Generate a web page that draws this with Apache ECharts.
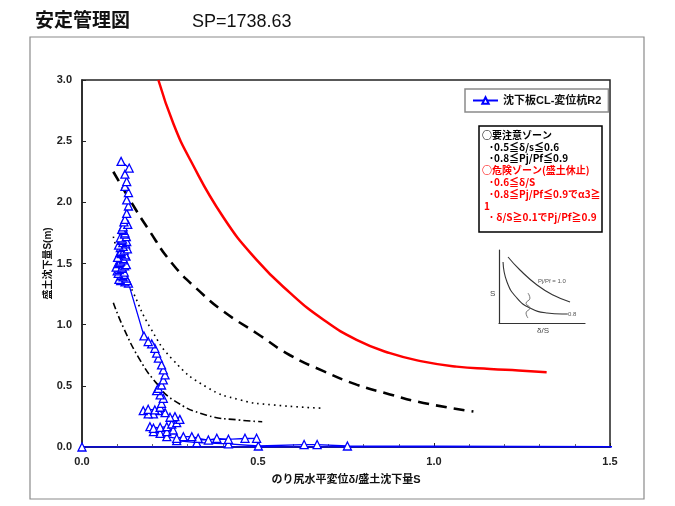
<!DOCTYPE html>
<html>
<head>
<meta charset="utf-8">
<script src="https://cdn.jsdelivr.net/npm/echarts@6/dist/echarts.min.js"></script>
<style>
  html, body { margin: 0; padding: 0; background: #fff; }
  #chart { width: 675px; height: 506px; }
</style>
</head>
<body>
<div id="chart"></div>
<script>
// 沈下板CL-変位杭R2 (時系列順: 下から上へ)
var blueX = [0, 2.0, 0.754, 0.668, 0.631, 0.501, 0.416, 0.326, 0.269, 0.496, 0.463, 0.416, 0.383, 0.359, 0.330,
  0.312, 0.288, 0.269, 0.241, 0.222, 0.203, 0.241, 0.259, 0.193, 0.203, 0.222, 0.241, 0.255, 0.269, 0.278,
  0.264, 0.250, 0.236, 0.217, 0.203, 0.188, 0.174, 0.188, 0.207, 0.222, 0.226, 0.231, 0.222, 0.212, 0.217,
  0.226, 0.231, 0.236, 0.231, 0.226, 0.217, 0.212, 0.207, 0.198, 0.188, 0.176,
  0.132, 0.122, 0.110, 0.128, 0.108, 0.105, 0.125, 0.117, 0.112, 0.119, 0.103, 0.120, 0.100, 0.106, 0.113,
  0.097, 0.114, 0.121, 0.126, 0.103, 0.107, 0.110, 0.118, 0.117, 0.101, 0.125, 0.123, 0.112, 0.108, 0.111,
  0.120, 0.129, 0.109, 0.117, 0.104, 0.124, 0.116, 0.127, 0.113, 0.115, 0.109, 0.126, 0.121, 0.122, 0.118,
  0.113, 0.117, 0.130, 0.119, 0.122, 0.127, 0.132, 0.127, 0.132, 0.122, 0.127, 0.122, 0.134, 0.111];
var blueY = [0, 0.0, 0.008, 0.02, 0.02, 0.008, 0.025, 0.035, 0.052, 0.071, 0.071, 0.063, 0.071, 0.057, 0.071,
  0.084, 0.084, 0.071, 0.084, 0.112, 0.125, 0.125, 0.139, 0.166, 0.153, 0.161, 0.166, 0.188, 0.199, 0.226,
  0.248, 0.243, 0.281, 0.297, 0.270, 0.270, 0.297, 0.308, 0.303, 0.325, 0.357, 0.398, 0.426, 0.461, 0.480,
  0.507, 0.548, 0.589, 0.630, 0.671, 0.726, 0.767, 0.807, 0.843, 0.862, 0.908,
  1.34, 1.35, 1.36, 1.36, 1.37, 1.37, 1.38, 1.39, 1.40, 1.41, 1.42, 1.43, 1.44, 1.45, 1.46,
  1.47, 1.47, 1.48, 1.49, 1.50, 1.51, 1.52, 1.53, 1.54, 1.55, 1.56, 1.57, 1.58, 1.59, 1.60,
  1.61, 1.62, 1.63, 1.64, 1.65, 1.66, 1.67, 1.68, 1.69, 1.70, 1.71, 1.72, 1.74, 1.75, 1.77,
  1.78, 1.80, 1.82, 1.84, 1.86, 1.91, 1.97, 2.02, 2.08, 2.13, 2.17, 2.23, 2.28, 2.335];

// 管理基準線
var redX = [0.217, 0.26, 0.307, 0.401, 0.496, 0.591, 0.686, 0.780, 0.875, 0.970, 1.064, 1.159, 1.24, 1.320];
var redY = [3.00, 2.64, 2.35, 1.88, 1.53, 1.26, 1.04, 0.876, 0.767, 0.698, 0.657, 0.638, 0.625, 0.611];
var dashX = [0.089, 0.136, 0.184, 0.259, 0.335, 0.401, 0.496, 0.591, 0.686, 0.780, 0.875, 0.970, 1.112];
var dashY = [2.25, 2.02, 1.80, 1.49, 1.27, 1.11, 0.93, 0.75, 0.62, 0.51, 0.43, 0.36, 0.29];
var dotX = [0.089, 0.117, 0.146, 0.193, 0.259, 0.354, 0.449, 0.543, 0.686];
var dotY = [1.72, 1.45, 1.26, 0.98, 0.71, 0.49, 0.385, 0.344, 0.317];
var dashDotX = [0.089, 0.117, 0.165, 0.212, 0.259, 0.354, 0.449, 0.512];
var dashDotY = [1.18, 0.98, 0.71, 0.52, 0.385, 0.26, 0.22, 0.207];

// 挿図 (模式図)
var insetUpX = [0.105, 0.244, 0.442, 0.628, 0.826];
var insetUpY = [0.904, 0.726, 0.521, 0.384, 0.288];
var insetLowX = [0.047, 0.093, 0.209, 0.36, 0.558, 0.733, 0.80];
var insetLowY = [0.836, 0.562, 0.342, 0.205, 0.137, 0.123, 0.123];
var wiggleX = [0.337, 0.36, 0.314, 0.36, 0.314, 0.337];
var wiggleY = [0.41, 0.34, 0.27, 0.205, 0.137, 0.068];

var xTicks = ['0.0', '0.5', '1.0', '1.5'];

var noteLines = [
    ['○要注意ゾーン', '#000', 482],
    ['･0.5≦δ/s≦0.6', '#000', 489],
    ['･0.8≦Pj/Pf≦0.9', '#000', 489],
    ['○危険ゾーン(盛土休止)', '#ff0000', 482],
    ['･0.6≦δ/S', '#ff0000', 489],
    ['･0.8≦Pj/Pf≦0.9でα3≧', '#ff0000', 489],
    ['1', '#ff0000', 484],
    ['･ δ/S≧0.1でPj/Pf≧0.9', '#ff0000', 489]
];

function zip(xs, ys) {
    var out = [];
    for (var i = 0; i < xs.length; i++) out.push([xs[i], ys[i]]);
    return out;
}

var FONT = '"Liberation Sans", "Noto Sans CJK JP", sans-serif';
var JFONT = '"Noto Sans CJK JP", "Liberation Sans", sans-serif';

var graphics = [
    {type: 'rect', shape: {x: 30, y: 37, width: 614, height: 462}, style: {fill: 'none', stroke: '#8a8a8a', lineWidth: 1.2}, z: 0},
    {type: 'rect', shape: {x: 479, y: 126, width: 123, height: 106}, style: {fill: '#fff', stroke: '#000', lineWidth: 1.5}, z: 10},
    {type: 'text', left: 490, top: 290, style: {text: 'S', fill: '#444', font: '8px ' + FONT}, z: 10},
    {type: 'text', left: 537, top: 327, style: {text: 'δ/S', fill: '#444', font: '8px ' + FONT}, z: 10},
    {type: 'text', left: 538, top: 278, style: {text: 'Pj/Pf = 1.0', fill: '#555', font: '6px ' + FONT}, z: 10},
    {type: 'text', left: 568, top: 311, style: {text: '0.8', fill: '#555', font: '6px ' + FONT}, z: 10}
];
noteLines.forEach(function (ln, i) {
    graphics.push({
        type: 'text', left: ln[2], top: 130 + i * 11.8, z: 11,
        style: {text: ln[0], fill: ln[1], font: 'bold 10px ' + JFONT}
    });
});

var chart = echarts.init(document.getElementById('chart'));
chart.setOption({
    animation: false,
    backgroundColor: '#fff',
    textStyle: {fontFamily: FONT},
    title: [
        {text: '安定管理図', left: 30, top: 7, textStyle: {fontSize: 19, fontWeight: 'bold', color: '#111', fontFamily: FONT}},
        {text: 'SP=1738.63', left: 187, top: 8, textStyle: {fontSize: 18, fontWeight: 'normal', color: '#111', fontFamily: FONT}}
    ],
    legend: {
        data: ['沈下板CL-変位杭R2'],
        left: 465, top: 89,
        padding: [6, 7, 6, 7],
        itemGap: 4,
        borderColor: '#8a8a8a', borderWidth: 1.5,
        itemWidth: 25, itemHeight: 8,
        textStyle: {fontSize: 11, fontWeight: 'bold', color: '#111', fontFamily: FONT}
    },
    grid: [
        {left: 82, top: 80, width: 528, height: 367, show: true, borderColor: '#222', borderWidth: 1.5, backgroundColor: 'transparent'},
        {left: 499, top: 250, width: 86, height: 73, show: false}
    ],
    xAxis: [
        {
            type: 'value', min: 0, max: 1.5, interval: 0.5, gridIndex: 0,
            name: 'のり尻水平変位δ/盛土沈下量S', nameLocation: 'middle', nameGap: 27,
            nameTextStyle: {fontSize: 11, fontWeight: 'bold', color: '#111', fontFamily: FONT},
            axisLine: {show: true, lineStyle: {color: '#222', width: 1.5}},
            axisTick: {show: true, inside: true, length: 4, lineStyle: {color: '#222'}},
            minorTick: {show: true, splitNumber: 5, length: 3, lineStyle: {color: '#666'}},
            splitLine: {show: false},
            axisLabel: {
                fontSize: 11, color: '#222', margin: 9, fontWeight: 'bold',
                formatter: function (v) { return xTicks[Math.round(v / 0.5)]; }
            }
        },
        {
            type: 'value', min: 0, max: 1, gridIndex: 1,
            axisLine: {show: true, lineStyle: {color: '#333', width: 1.2}},
            axisTick: {show: false}, axisLabel: {show: false}, splitLine: {show: false}
        }
    ],
    yAxis: [
        {
            type: 'value', min: 0, max: 3, interval: 0.5, gridIndex: 0,
            name: '盛土沈下量S(m)', nameLocation: 'middle', nameGap: 29, nameRotate: 90,
            nameMoveOverlap: false,
            nameTextStyle: {fontSize: 10, fontWeight: 'bold', color: '#111', fontFamily: FONT},
            axisLine: {show: true, lineStyle: {color: '#222', width: 1.5}},
            axisTick: {show: true, inside: true, length: 4, lineStyle: {color: '#222'}},
            splitLine: {show: false},
            axisLabel: {
                fontSize: 11, color: '#222', margin: 10, fontWeight: 'bold',
                formatter: function (v) { return v.toFixed(1); }
            }
        },
        {
            type: 'value', min: 0, max: 1, gridIndex: 1,
            axisLine: {show: true, lineStyle: {color: '#333', width: 1.2}},
            axisTick: {show: false}, axisLabel: {show: false}, splitLine: {show: false}
        }
    ],
    series: [
        {
            name: 'red', type: 'line', data: zip(redX, redY), smooth: true, symbol: 'none',
            lineStyle: {color: '#ff0000', width: 2.5}, z: 2, silent: true
        },
        {
            name: 'dash', type: 'line', data: zip(dashX, dashY), smooth: true, symbol: 'none',
            lineStyle: {color: '#000', width: 2.6, type: [11, 7]}, z: 2, silent: true
        },
        {
            name: 'dot', type: 'line', data: zip(dotX, dotY), smooth: true, symbol: 'none',
            lineStyle: {color: '#000', width: 1.6, type: [1.6, 4]}, z: 2, silent: true
        },
        {
            name: 'dashdot', type: 'line', data: zip(dashDotX, dashDotY), smooth: true, symbol: 'none',
            lineStyle: {color: '#000', width: 1.6, type: [7, 3, 1.6, 3]}, z: 2, silent: true
        },
        {
            name: '沈下板CL-変位杭R2', type: 'line', data: zip(blueX, blueY),
            symbol: 'triangle', symbolSize: 8,
            lineStyle: {color: '#0000ff', width: 1.3},
            itemStyle: {color: '#fff', borderColor: '#0000ff', borderWidth: 1.3},
            z: 5
        },
        {
            name: 'insetUp', type: 'line', xAxisIndex: 1, yAxisIndex: 1, data: zip(insetUpX, insetUpY),
            smooth: true, symbol: 'none', lineStyle: {color: '#333', width: 1.1}, silent: true
        },
        {
            name: 'insetLow', type: 'line', xAxisIndex: 1, yAxisIndex: 1, data: zip(insetLowX, insetLowY),
            smooth: true, symbol: 'none', lineStyle: {color: '#333', width: 1.1}, silent: true
        },
        {
            name: 'wiggle', type: 'line', xAxisIndex: 1, yAxisIndex: 1, data: zip(wiggleX, wiggleY),
            smooth: true, symbol: 'none', lineStyle: {color: '#666', width: 0.9}, silent: true
        }
    ],
    graphic: graphics
});
</script>
</body>
</html>
